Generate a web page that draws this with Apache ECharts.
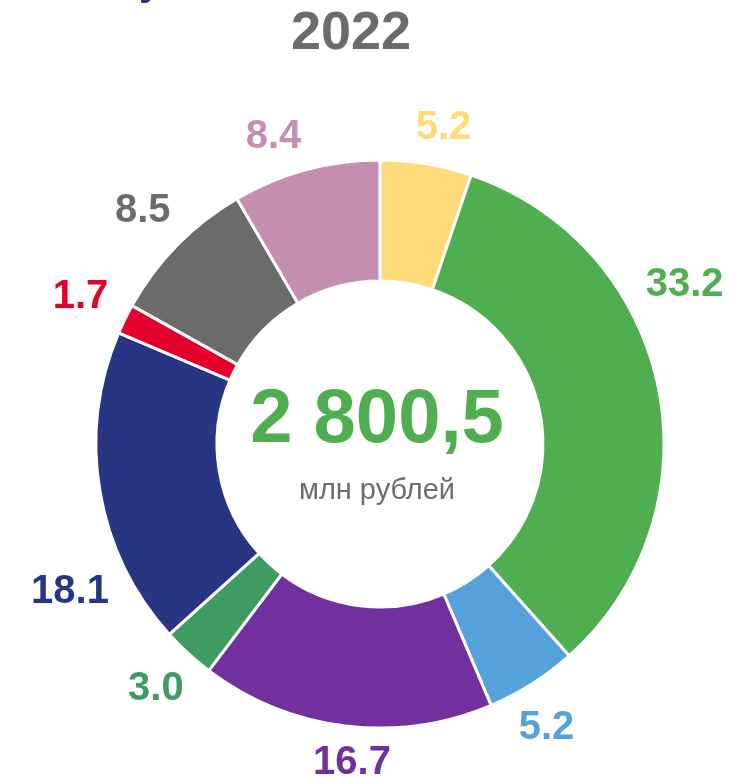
<!DOCTYPE html>
<html>
<head>
<meta charset="utf-8">
<script src="https://cdn.jsdelivr.net/npm/echarts@6/dist/echarts.min.js"></script>
<style>
  html, body { margin: 0; padding: 0; background: #fff; }
  #chart { width: 738px; height: 778px; }
</style>
</head>
<body>
<div id="chart"></div>
<script>
  // доли, % (по часовой стрелке от верха)
  const sliceNames = ['s1', 's2', 's3', 's4', 's5', 's6', 's7', 's8', 's9'];
  const sliceShares = [5.2, 33.2, 5.2, 16.7, 3.0, 18.1, 1.7, 8.5, 8.4];
  const sliceColors = ['#fedb78', '#4faf50', '#55a1d9', '#71309d', '#409a64', '#283583', '#e3002c', '#6b6b6b', '#c48eb0'];
  const yearLabel = '2022';
  const totalLabel = '2 800,5';
  const unitLabel = 'млн рублей';

  const FONT = "'Liberation Sans', Arial, sans-serif";
  const CX = 380, CY = 444, R_IN = 163, R_OUT = 284, LABEL_GAP = 18;
  // небольшие сдвиги подписей по углу, градусы
  const labelNudge = [2, -16, 2, -2, 0, -16, 0, 0, -4];

  const total = sliceShares.reduce((a, b) => a + b, 0);
  function midAngle(i) {
    let before = 0;
    for (let k = 0; k < i; k++) before += sliceShares[k];
    return (before + sliceShares[i] / 2) / total * 360;
  }

  let myChart = echarts.init(document.getElementById('chart'));
  myChart.setOption({
    animation: false,
    graphic: [
      {
        // хвостик обрезанного заголовка сверху
        type: 'text', x: 150, y: 4,
        style: { text: 'у', font: 'bold 40px ' + FONT, fill: '#283583', textAlign: 'center', textVerticalAlign: 'bottom' }
      },
      {
        type: 'text', x: 351, y: 34,
        style: { text: yearLabel, font: 'bold 54px ' + FONT, fill: '#6b6b6b', textAlign: 'center', textVerticalAlign: 'middle' }
      },
      {
        type: 'text', x: 377, y: 421,
        style: { text: totalLabel, font: 'bold 76px ' + FONT, fill: '#4faf50', textAlign: 'center', textVerticalAlign: 'middle' }
      },
      {
        type: 'text', x: 377, y: 491,
        style: { text: unitLabel, font: '29px ' + FONT, fill: '#6d6d6d', textAlign: 'center', textVerticalAlign: 'middle' }
      }
    ],
    series: [
      {
        type: 'pie',
        center: [CX, CY],
        radius: [R_IN, R_OUT],
        startAngle: 90,
        clockwise: true,
        avoidLabelOverlap: false,
        emphasis: { disabled: true },
        itemStyle: { borderColor: '#fff', borderWidth: 3 },
        label: {
          show: true,
          position: 'outside',
          fontFamily: FONT,
          fontWeight: 'bold',
          fontSize: 40,
          formatter: p => p.value.toFixed(1)
        },
        labelLine: { show: false },
        labelLayout: function (p) {
          const a = (midAngle(p.dataIndex) + labelNudge[p.dataIndex]) * Math.PI / 180;
          const s = Math.sin(a), c = Math.cos(a);
          const w = p.labelRect.width, h = p.labelRect.height * 0.75;
          const d = R_OUT + LABEL_GAP + (Math.abs(s) * w + Math.abs(c) * h) / 2;
          return { x: CX + d * s, y: CY - d * c, align: 'center', verticalAlign: 'middle' };
        },
        data: sliceShares.map((v, i) => ({
          name: sliceNames[i],
          value: v,
          itemStyle: { color: sliceColors[i] },
          label: { color: sliceColors[i] }
        }))
      }
    ]
  });
</script>
</body>
</html>
